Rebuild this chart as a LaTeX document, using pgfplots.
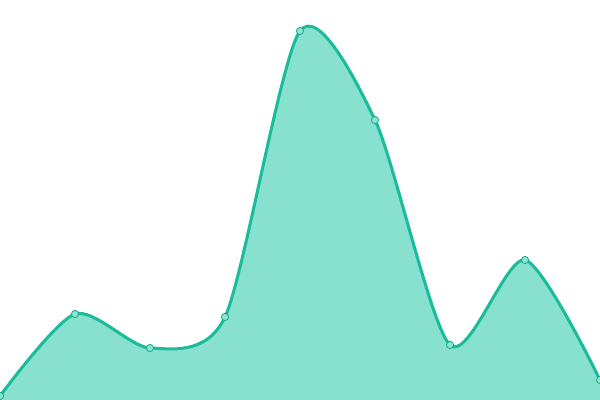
\documentclass[border=0pt]{standalone}
\usepackage{pgfplots}
\pgfplotsset{compat=1.18}
\definecolor{linec}{HTML}{1ABC9C}
\definecolor{fillc}{HTML}{88E0CF}
\definecolor{markc}{HTML}{8FE3D1}
\begin{document}
\begin{tikzpicture}
\begin{axis}[
    width=6in, height=4in,
    scale only axis,
    hide axis,
    xmin=0, xmax=8,
    ymin=0, ymax=400,
    clip marker paths=true,
]
\addplot[draw=none, fill=fillc, smooth, tension=0.45] coordinates {
    (0,4) (1,86) (2,52) (3,83) (4,369) (5,280) (6,55) (7,140) (8,20)
} \closedcycle;
\addplot[linec, line width=2.2pt, smooth, tension=0.45,
    mark=*, mark size=2.6pt,
    mark options={fill=markc, draw=linec!90!black, line width=0.6pt}] coordinates {
    (0,4) (1,86) (2,52) (3,83) (4,369) (5,280) (6,55) (7,140) (8,20)
};
\end{axis}
\pgfresetboundingbox
\path (current axis.south west) rectangle (current axis.north east);
\end{tikzpicture}
\end{document}
